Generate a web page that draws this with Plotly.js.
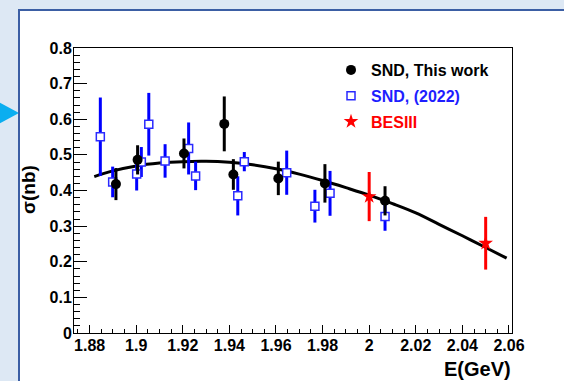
<!DOCTYPE html>
<html>
<head>
<meta charset="utf-8">
<script src="https://cdn.plot.ly/plotly-3.0.1.min.js"></script>
<style>
  html, body { margin: 0; padding: 0; background: #dde8f4; }
  #plot { width: 564px; height: 381px; }
</style>
</head>
<body>
<div id="plot"></div>
<script>
// SND, this work: energy (GeV), cross section (nb), error (nb)
const sndE   = [1.8913, 1.9006, 1.9205, 1.9378, 1.9417, 1.9610, 1.9810, 2.0068];
const sndSig = [0.418, 0.486, 0.504, 0.587, 0.445, 0.434, 0.420, 0.371];
const sndErr = [0.045, 0.041, 0.042, 0.077, 0.043, 0.047, 0.054, 0.041];

// SND (2022)
const snd22E   = [1.8846, 1.8899, 1.9002, 1.9022, 1.9054, 1.9124, 1.9225, 1.9255, 1.9436, 1.9464, 1.9646, 1.9767, 1.9832, 2.0068];
const snd22Sig = [0.551, 0.424, 0.446, 0.480, 0.586, 0.483, 0.518, 0.441, 0.385, 0.481, 0.450, 0.356, 0.392, 0.327];
const snd22Err = [0.110, 0.043, 0.046, 0.042, 0.088, 0.047, 0.073, 0.040, 0.055, 0.027, 0.062, 0.046, 0.063, 0.040];

// BESIII
const besE   = [2.000, 2.050];
const besSig = [0.383, 0.252];
const besErr = [0.069, 0.074];

// Fit curve samples
const fitE   = [1.882, 1.89, 1.90, 1.91, 1.92, 1.93, 1.94, 1.95, 1.96, 1.97, 1.98, 1.99, 2.00, 2.01, 2.02, 2.03, 2.04, 2.05, 2.059];
const fitSig = [0.439, 0.455, 0.469, 0.477, 0.481, 0.482, 0.479, 0.472, 0.461, 0.446, 0.428, 0.408, 0.387, 0.363, 0.337, 0.305, 0.273, 0.240, 0.210];

// Axis ticks
const xTickVals = [1.88, 1.90, 1.92, 1.94, 1.96, 1.98, 2.00, 2.02, 2.04, 2.06];
const xTickText = ["1.88", "1.9", "1.92", "1.94", "1.96", "1.98", "2", "2.02", "2.04", "2.06"];
const yTickVals = [0, 0.1, 0.2, 0.3, 0.4, 0.5, 0.6, 0.7, 0.8];
const yTickText = ["0", "0.1", "0.2", "0.3", "0.4", "0.5", "0.6", "0.7", "0.8"];

const FONT = "Liberation Sans, Arial, Helvetica, sans-serif";
const BLUE = "#0000ff";
const RED = "#ff0000";

const traces = [
  {
    x: fitE, y: fitSig, type: "scatter", mode: "lines",
    line: { color: "#000000", width: 3, shape: "spline" },
    showlegend: false, hoverinfo: "skip"
  },
  {
    x: snd22E, y: snd22Sig, type: "scatter", mode: "markers",
    name: '<span style="color:#1e1eff">SND, (2022)</span>',
    legendgroup: "b", legendrank: 2,
    marker: { symbol: "square", size: 8, color: "#ffffff", line: { color: "#2a2aff", width: 1.5 } },
    error_y: { type: "data", array: snd22Err, visible: true, color: BLUE, thickness: 3, width: 0 }
  },
  {
    x: sndE, y: sndSig, type: "scatter", mode: "markers",
    name: "SND, This work",
    legendgroup: "a", legendrank: 1,
    marker: { symbol: "circle", size: 10, color: "#000000" },
    error_y: { type: "data", array: sndErr, visible: true, color: "#000000", thickness: 3, width: 0 }
  },
  {
    x: besE, y: besSig, type: "scatter", mode: "markers",
    name: '<span style="color:#ff0000">BESIII</span>',
    legendgroup: "c", legendrank: 3,
    marker: { symbol: "star", size: 11, color: RED, line: { width: 0 } },
    error_y: { type: "data", array: besErr, visible: true, color: RED, thickness: 3, width: 0 }
  }
];

// pixel -> paper helpers for the decorative frame
const L = 74, R = 512, T = 48, B = 333;
const px = v => (v - L) / (R - L);
const py = v => (B - v) / (B - T);

const layout = {
  width: 564, height: 381,
  margin: { l: L, r: 564 - R, t: T, b: 381 - B, pad: 0 },
  paper_bgcolor: "#dde8f4",
  plot_bgcolor: "rgba(0,0,0,0)",
  font: { family: FONT, color: "#000000" },
  showlegend: true,
  legend: {
    x: px(331), y: py(53), xanchor: "left", yanchor: "top",
    bgcolor: "rgba(0,0,0,0)", borderwidth: 0,
    font: { family: FONT, size: 16, weight: "bold", color: "#000000" },
    tracegroupgap: 2, itemsizing: "trace", traceorder: "grouped"
  },
  xaxis: {
    range: [1.8733, 2.0613],
    tickmode: "array", tickvals: xTickVals, ticktext: xTickText,
    ticks: "inside", ticklen: 8, tickwidth: 1, tickcolor: "#000000",
    minor: { ticks: "inside", ticklen: 4, tickwidth: 1, tickcolor: "#000000", tickmode: "linear", tick0: 1.88, dtick: 0.005, showgrid: false },
    showline: true, linecolor: "#000000", linewidth: 1, mirror: true,
    showgrid: false, zeroline: false, ticklabelstandoff: -2,
    tickfont: { family: FONT, size: 16, weight: "bold", color: "#000000" }
  },
  yaxis: {
    range: [0, 0.8],
    tickmode: "array", tickvals: yTickVals, ticktext: yTickText,
    ticks: "inside", ticklen: 13, tickwidth: 1, tickcolor: "#000000",
    minor: { ticks: "inside", ticklen: 6, tickwidth: 1, tickcolor: "#000000", tickmode: "linear", tick0: 0, dtick: 0.02, showgrid: false },
    showline: true, linecolor: "#000000", linewidth: 1, mirror: true,
    showgrid: false, zeroline: false, ticklabelstandoff: -2,
    tickfont: { family: FONT, size: 16, weight: "bold", color: "#000000" }
  },
  shapes: [
    {
      type: "path", xref: "paper", yref: "paper", layer: "below",
      path: `M ${px(-3)} ${py(101)} L ${px(19)} ${py(113)} L ${px(-3)} ${py(125)} Z`,
      fillcolor: "#0aaef0", line: { width: 0 }
    },
    {
      type: "rect", xref: "paper", yref: "paper", layer: "below",
      x0: px(19), x1: px(600), y0: py(420), y1: py(10),
      fillcolor: "#ffffff", line: { color: "#3b5ea4", width: 2 }
    }
  ],
  annotations: [
    {
      text: "E(GeV)", xref: "paper", yref: "paper",
      x: px(513), y: py(369), xanchor: "right", yanchor: "middle",
      showarrow: false, font: { family: FONT, size: 20, weight: "bold", color: "#000000" }
    },
    {
      text: "σ(nb)", xref: "paper", yref: "paper",
      x: px(28), y: py(190), xanchor: "center", yanchor: "middle", textangle: -90,
      showarrow: false, font: { family: FONT, size: 19, weight: "bold", color: "#000000" }
    }
  ]
};

Plotly.newPlot("plot", traces, layout, { staticPlot: true, displayModeBar: false });
</script>
</body>
</html>
